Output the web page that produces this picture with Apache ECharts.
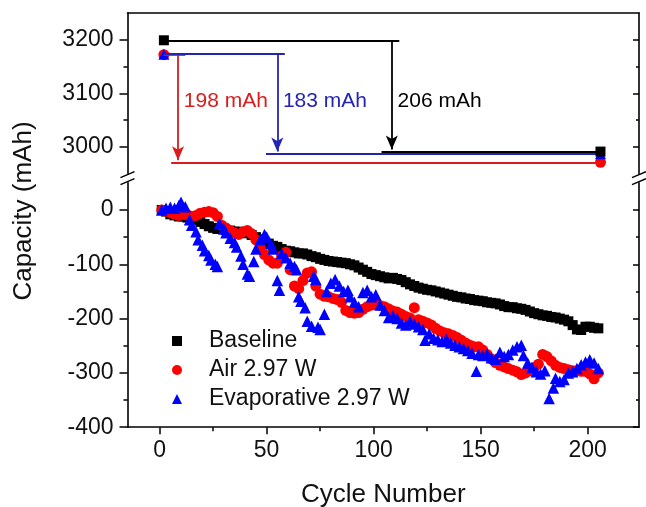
<!DOCTYPE html>
<html><head><meta charset="utf-8">
<script src="https://cdn.jsdelivr.net/npm/echarts@6/dist/echarts.min.js"></script>
<style>html,body{margin:0;padding:0;background:#fff}#c{width:646px;height:507px}</style>
</head><body><div id="c"></div>
<script>
// ---------- data ----------
const cycles = [1,3,5,7,9,11,13,15,17,19,21,23,25,27,29,31,33,35,37,39,41,43,45,47,49,51,53,55,57,59,61,63,65,67,69,71,73,75,77,79,81,83,85,87,89,91,93,95,97,99,101,103,105,107,109,111,113,115,117,119,121,123,125,127,129,131,133,135,137,139,141,143,145,147,149,151,153,155,157,159,161,163,165,167,169,171,173,175,177,179,181,183,185,187,189,191,193,195,197,199,201,203,205];
const baselineValues = [0,-3,-8,-10,-12,-12,-14,-16,-18,-22,-26,-30,-33,-35,-35,-37,-38,-40,-40,-42,-43,-46,-50,-54,-58,-62,-66,-68,-72,-75,-76,-78,-80,-80,-82,-85,-87,-90,-92,-94,-95,-96,-97,-98,-100,-102,-106,-110,-114,-118,-120,-122,-124,-126,-125,-127,-129,-133,-137,-140,-143,-145,-147,-148,-150,-152,-154,-156,-158,-160,-161,-163,-164,-166,-167,-168,-170,-171,-172,-174,-177,-179,-179,-181,-182,-184,-187,-190,-192,-194,-195,-197,-198,-200,-202,-205,-212,-220,-221,-215,-215,-217,-218];
const airValues = [0,-2,-5,-8,-10,-8,-9,-12,-10,-6,-4,-3,-5,-12,-28,-33,-38,-42,-45,-40,-38,-44,-55,-68,-82,-92,-98,-98,-85,-78,-110,-140,-145,-130,-116,-114,-140,-155,-159,-160,-163,-165,-170,-185,-189,-190,-189,-183,-178,-175,-174,-176,-178,-182,-186,-188,-192,-196,-199,-180,-202,-205,-208,-212,-218,-223,-226,-228,-231,-235,-240,-245,-249,-252,-252,-258,-266,-274,-281,-286,-289,-292,-295,-298,-303,-300,-296,-290,-284,-266,-270,-278,-286,-290,-292,-294,-296,-296,-297,-297,-302,-311,-300];
const evapCycles = [1,3,5,7,9,10,12,14,15,17,18,20,21,23,24,26,27,28,30,31,33,35,36,38,39,41,42,44,45,47,49,50,52,53,55,56,57,59,61,63,64,65,66,68,69,71,72,73,74,75,77,78,80,82,84,86,88,89,91,93,95,97,99,101,103,105,107,109,111,113,115,117,119,121,123,124,126,128,130,132,134,136,138,140,142,144,146,148,149,151,153,155,157,159,161,163,165,167,169,170,172,174,176,178,180,182,184,185,187,189,191,193,195,197,199,201,203,205];
const evapValues = [0,3,5,3,8,14,6,-18,-28,-40,-55,-65,-75,-84,-92,-100,-104,-25,-35,-42,-52,-60,-68,-85,-100,-118,-122,-95,-72,-55,-45,-50,-62,-72,-130,-148,-80,-88,-98,-104,-110,-160,-168,-180,-205,-214,-122,-128,-216,-220,-192,-150,-135,-128,-140,-150,-148,-160,-170,-178,-152,-148,-160,-156,-175,-185,-198,-195,-200,-208,-212,-205,-210,-215,-220,-240,-228,-236,-239,-242,-238,-245,-249,-252,-255,-259,-264,-297,-266,-268,-265,-272,-275,-262,-270,-266,-258,-252,-249,-268,-282,-290,-298,-302,-296,-347,-328,-310,-316,-312,-300,-298,-292,-285,-280,-276,-282,-292];

// upper panel: first and last cycle capacities (mAh)
const upperCycles = [2, 206];
const upperBaseline = [3199, 2991];
const upperAir = [3172, 2971];
const upperEvap = [3173, 2987];
// capacity-drop annotations: [air, evap, baseline]
const dropLabels = ['198 mAh', '183 mAh', '206 mAh'];
const arrowCycles = [8.6, 55, 108.5];
const topLineEnds = [12, 58.5, 112];
const bottomLineStarts = [5.4, 49.7, 103.7];
const labelCycles = [11.3, 57.6, 111.2];
const labelCapacity = 3086;

// ticks
const xTicks = [0, 50, 100, 150, 200];
const xMinorTicks = [25, 75, 125, 175];
const upperTicks = [3000, 3100, 3200];
const upperMinorTicks = [3050, 3150];
const lowerTicks = [-400, -300, -200, -100, 0];
const lowerMinorTicks = [-350, -250, -150, -50];

const seriesNames = ['Baseline', 'Air 2.97 W', 'Evaporative 2.97 W'];
const colors = ['#000000', '#ff0000', '#0000ff'];
const annoColors = ['#d91c1c', '#2424b4', '#000000'];

// ---------- chart ----------
const FONT = '"Liberation Sans", Arial, Helvetica, sans-serif';
const chart = echarts.init(document.getElementById('c'), null, {renderer: 'canvas'});
const AL = {color: '#000', width: 1.6};
const X_MIN = -15, X_MAX = 224;
const U_MIN = 2950, U_MAX = 3250, L_MIN = -400, L_MAX = 50;
const plainNum = v => String(v);

function yAx(grid, min, max, pos, ticks, len, inside, line, labels) {
  return {
    type: 'value', gridIndex: grid, min: min, max: max, position: pos,
    axisLine: {show: line, onZero: false, lineStyle: AL},
    axisTick: {show: true, inside: inside, length: len, customValues: ticks, lineStyle: {color: '#000', width: 1.5}},
    axisLabel: labels ? {show: true, customValues: ticks, formatter: plainNum, fontSize: 23, color: '#111', margin: 14, fontFamily: FONT} : {show: false},
    splitLine: {show: false}, minorTick: {show: false}
  };
}
function zip(xs, ys) { return xs.map((x, i) => [x, ys[i]]); }

const option = {
  animation: false,
  textStyle: {fontFamily: FONT},
  grid: [
    {left: 127.5, right: 7, top: 13, height: 160.5, outerBoundsMode: 'none'},
    {left: 127.5, right: 7, top: 182.8, height: 244.4, outerBoundsMode: 'none'}
  ],
  xAxis: [
    {type: 'value', gridIndex: 0, min: X_MIN, max: X_MAX, position: 'top',
     axisLine: {show: true, onZero: false, lineStyle: AL}, axisTick: {show: false}, axisLabel: {show: false}, splitLine: {show: false}},
    {type: 'value', gridIndex: 1, min: X_MIN, max: X_MAX, position: 'bottom',
     axisLine: {show: true, onZero: false, lineStyle: AL},
     axisTick: {show: true, length: 7, customValues: xTicks, lineStyle: {color: '#000', width: 1.5}},
     axisLabel: {show: true, customValues: xTicks, formatter: plainNum, fontSize: 23, color: '#111', margin: 12, fontFamily: FONT},
     splitLine: {show: false},
     name: 'Cycle Number', nameLocation: 'middle', nameGap: 55,
     nameTextStyle: {fontSize: 26, color: '#111', fontFamily: FONT}},
    {type: 'value', gridIndex: 1, min: X_MIN, max: X_MAX, position: 'bottom',
     axisLine: {show: false, onZero: false},
     axisTick: {show: true, length: 4, customValues: xMinorTicks, lineStyle: {color: '#000', width: 1.5}},
     axisLabel: {show: false}, splitLine: {show: false}}
  ],
  yAxis: [
    yAx(0, U_MIN, U_MAX, 'left', upperTicks, 8, false, true, true),
    yAx(0, U_MIN, U_MAX, 'left', upperMinorTicks, 4, false, false, false),
    yAx(0, U_MIN, U_MAX, 'right', upperTicks, 6, true, true, false),
    yAx(0, U_MIN, U_MAX, 'right', upperMinorTicks, 3, true, false, false),
    yAx(1, L_MIN, L_MAX, 'left', lowerTicks, 8, false, true, true),
    yAx(1, L_MIN, L_MAX, 'left', lowerMinorTicks, 4, false, false, false),
    yAx(1, L_MIN, L_MAX, 'right', lowerTicks, 6, true, true, false),
    yAx(1, L_MIN, L_MAX, 'right', lowerMinorTicks, 3, true, false, false)
  ],
  legend: {
    orient: 'vertical', left: 172, top: 329, padding: 0, itemWidth: 10, itemHeight: 10, itemGap: 5,
    selectedMode: false,
    textStyle: {fontSize: 23, color: '#111', lineHeight: 24, padding: [0, 0, 0, 22], fontFamily: FONT},
    data: [
      {name: seriesNames[0], icon: 'rect'},
      {name: seriesNames[1], icon: 'circle'},
      {name: seriesNames[2], icon: 'triangle'}
    ]
  },
  series: []
};

function annoLines(k, topCap, botCap) {
  const st = {color: annoColors[k], width: 1.8, type: 'solid', opacity: 1};
  return {
    silent: true, symbol: ['none', 'none'], label: {show: false}, lineStyle: st,
    emphasis: {disabled: true},
    data: [
      [{coord: [upperCycles[0], topCap]}, {coord: [topLineEnds[k], topCap]}],
      [{coord: [bottomLineStarts[k], botCap]}, {coord: [upperCycles[1], botCap]}],
      [{coord: [arrowCycles[k], topCap]}, {coord: [arrowCycles[k], botCap + 4], symbol: 'arrow', symbolSize: [9, 14]}]
    ]
  };
}

// lower panel data
option.series.push(
  {name: seriesNames[0], type: 'scatter', xAxisIndex: 1, yAxisIndex: 4, symbol: 'rect', symbolSize: 10,
   itemStyle: {color: colors[0], opacity: 1}, data: zip(cycles, baselineValues), z: 2},
  {name: seriesNames[1], type: 'scatter', xAxisIndex: 1, yAxisIndex: 4, symbol: 'circle', symbolSize: 11,
   itemStyle: {color: colors[1], opacity: 1}, data: zip(cycles, airValues), z: 3},
  {name: seriesNames[2], type: 'scatter', xAxisIndex: 1, yAxisIndex: 4, symbol: 'triangle', symbolSize: 11.5,
   itemStyle: {color: colors[2], opacity: 1}, data: zip(evapCycles, evapValues), z: 4}
);
// upper panel markers with annotations
option.series.push(
  {name: seriesNames[1], type: 'scatter', xAxisIndex: 0, yAxisIndex: 0, symbol: 'circle', symbolSize: 11,
   itemStyle: {color: colors[1], opacity: 1}, data: zip(upperCycles, upperAir), z: 3,
   markLine: annoLines(0, upperAir[0], upperAir[1])},
  {name: seriesNames[2], type: 'scatter', xAxisIndex: 0, yAxisIndex: 0, symbol: 'triangle', symbolSize: 11,
   itemStyle: {color: colors[2], opacity: 1}, data: zip(upperCycles, upperEvap), z: 4,
   markLine: annoLines(1, upperEvap[0], upperEvap[1])},
  {name: seriesNames[0], type: 'scatter', xAxisIndex: 0, yAxisIndex: 0, symbol: 'rect', symbolSize: 10,
   itemStyle: {color: colors[0], opacity: 1}, data: zip(upperCycles, upperBaseline), z: 5,
   markLine: annoLines(2, upperBaseline[0], upperBaseline[1])}
);

chart.setOption(option);

// texts and axis-break marks
const px = (g, c, v) => chart.convertToPixel({xAxisIndex: g === 0 ? 0 : 1, yAxisIndex: g === 0 ? 0 : 4}, [c, v]);
const graphics = [];
dropLabels.forEach((t, k) => {
  const p = px(0, labelCycles[k], labelCapacity);
  graphics.push({type: 'text', x: p[0], y: p[1], silent: true,
    style: {text: t, fill: annoColors[k], fontSize: 21, fontFamily: FONT, align: 'left', verticalAlign: 'middle'}});
});
const upBottom = px(0, X_MIN, U_MIN);
const loTop = px(1, X_MAX, L_MAX);
const yc = (upBottom[1] + loTop[1]) / 2;
[upBottom[0], loTop[0]].forEach(x0 => {
  [-3.5, 3.5].forEach(dy => {
    graphics.push({type: 'line', silent: true,
      shape: {x1: x0 - 7, y1: yc + dy + 3, x2: x0 + 7, y2: yc + dy - 3},
      style: {stroke: '#000', lineWidth: 1.5}});
  });
});
graphics.push({type: 'text', x: 24, y: 211, rotation: Math.PI / 2, silent: true,
  style: {text: 'Capacity (mAh)', fill: '#111', fontSize: 26, fontFamily: FONT, align: 'center', verticalAlign: 'middle'}});
chart.setOption({graphic: graphics});
</script>
</body></html>
